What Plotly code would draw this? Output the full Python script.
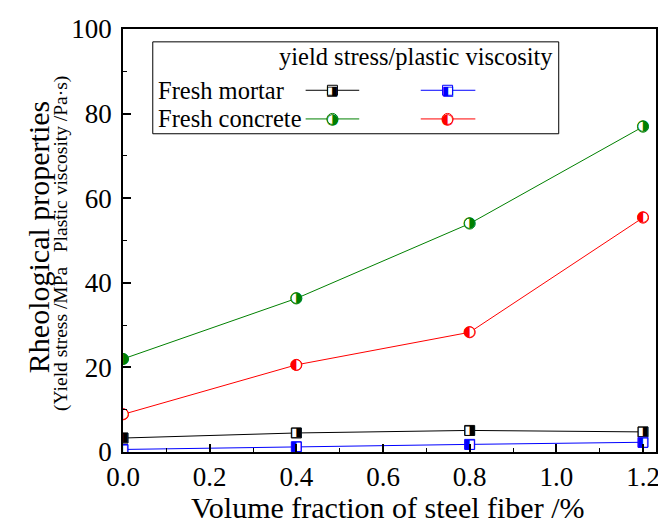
import plotly.graph_objects as go

# ---- data ----
fiber_fraction = [0.0, 0.4, 0.8, 1.2]
mortar_yield_stress = [3.3, 4.5, 5.1, 4.75]
mortar_plastic_viscosity = [0.6, 1.25, 1.8, 2.3]
concrete_yield_stress = [22.0, 36.3, 54.0, 76.9]
concrete_plastic_viscosity = [8.9, 20.6, 28.3, 55.4]

x_ticks = [0.0, 0.2, 0.4, 0.6, 0.8, 1.0, 1.2]
y_ticks = [0, 20, 40, 60, 80, 100]

SERIF = "Liberation Serif, Times New Roman, serif"
GLYPH = "DejaVu Sans"

series = [
    (mortar_yield_stress, "black", "square", "\u25E8", 10, 13),
    (mortar_plastic_viscosity, "blue", "square", "\u25E7", 10, 13),
    (concrete_yield_stress, "green", "circle", "\u25D1", 11, 15),
    (concrete_plastic_viscosity, "red", "circle", "\u25D0", 11, 15),
]

fig = go.Figure()
for ys, col, sym, glyph, msize, gsize in series:
    fig.add_trace(go.Scatter(
        x=fiber_fraction, y=ys, mode="lines+markers+text",
        line=dict(color=col, width=1),
        marker=dict(symbol=sym, size=msize, color="white", line=dict(color=col, width=1)),
        text=[glyph] * len(ys), textposition="middle center",
        textfont=dict(family=GLYPH, size=gsize, color=col),
        cliponaxis=True,
        showlegend=False, hoverinfo="skip",
    ))

# page has an 8px body margin; screen-pixel layout targets below
OFF = 8
L, R, T, B = 123, 660, 24, 452          # plot area in screen pixels
W, H = 666 - OFF, 523 - OFF             # figure size
def px(x):
    return (x - L) / (R - L)
def py(y):
    return (B - y) / (B - T)

shapes = []
annotations = []
# legend box
shapes.append(dict(type="rect", xref="paper", yref="paper",
                   x0=px(153), x1=px(562), y0=py(130), y1=py(37),
                   line=dict(color="black", width=1), fillcolor="white", layer="above"))
annotations.append(dict(xref="paper", yref="paper", x=px(558), y=py(52), xanchor="right", yanchor="middle",
                        text="yield stress/plastic viscosity", showarrow=False,
                        font=dict(family=SERIF, size=24.5, color="black")))
annotations.append(dict(xref="paper", yref="paper", x=px(156), y=py(86), xanchor="left", yanchor="middle",
                        text="Fresh mortar", showarrow=False, font=dict(family=SERIF, size=24.5, color="black")))
annotations.append(dict(xref="paper", yref="paper", x=px(156), y=py(115), xanchor="left", yanchor="middle",
                        text="Fresh concrete", showarrow=False, font=dict(family=SERIF, size=24.5, color="black")))
legend_samples = [
    (307, 361, 334, 86, "black", "rect", "\u25E8", 10, 13),
    (423, 478, 450, 86, "blue", "rect", "\u25E7", 10, 13),
    (307, 361, 334, 115, "green", "circle", "\u25D1", 11, 15),
    (423, 478, 450, 115, "red", "circle", "\u25D0", 11, 15),
]
for x0, x1, xm, yy, col, shp, glyph, msize, gsize in legend_samples:
    shapes.append(dict(type="line", xref="paper", yref="paper", x0=px(x0), x1=px(x1), y0=py(yy), y1=py(yy),
                       line=dict(color=col, width=1), layer="above"))
    h = msize / 2
    shapes.append(dict(type=shp, xref="paper", yref="paper", xsizemode="pixel", ysizemode="pixel",
                       xanchor=px(xm), yanchor=py(yy), x0=-h, x1=h, y0=-h, y1=h,
                       line=dict(color=col, width=1), fillcolor="white", layer="above"))
    annotations.append(dict(xref="paper", yref="paper", x=px(xm), y=py(yy), xanchor="center", yanchor="middle",
                            text=glyph, showarrow=False, font=dict(family=GLYPH, size=gsize, color=col)))

# axis titles
annotations.append(dict(xref="paper", yref="paper", x=px(38), y=py(235), textangle=-90,
                        xanchor="center", yanchor="middle", showarrow=False,
                        text="Rheological properties", font=dict(family=SERIF, size=30, color="black")))
annotations.append(dict(xref="paper", yref="paper", x=px(61), y=py(241), textangle=-90,
                        xanchor="center", yanchor="middle", showarrow=False,
                        text="(Yield stress /MPa&nbsp;&nbsp;&nbsp;Plastic viscosity /Pa\u00B7s)",
                        font=dict(family=SERIF, size=19.5, color="black")))
annotations.append(dict(xref="paper", yref="paper", x=px(390), y=py(508),
                        xanchor="center", yanchor="middle", showarrow=False,
                        text="Volume fraction of steel fiber /%", font=dict(family=SERIF, size=30, color="black")))

fig.update_layout(
    width=W, height=H,
    margin=dict(l=L - OFF, r=(666 - R), t=T - OFF, b=(523 - B)),
    paper_bgcolor="white", plot_bgcolor="white",
    shapes=shapes, annotations=annotations,
    font=dict(family=SERIF, size=27, color="black"),
)
fig.update_xaxes(
    range=[0, 1.23], tickmode="array", tickvals=x_ticks,
    ticktext=[f"{v:.1f}" for v in x_ticks],
    ticks="inside", ticklen=8, tickwidth=1.5, tickcolor="black",
    minor=dict(ticks="inside", ticklen=4, tickwidth=1, tickcolor="black", dtick=0.1, tick0=0, showgrid=False),
    showline=True, linecolor="black", linewidth=1.5, mirror=True,
    showgrid=False, zeroline=False,
    tickfont=dict(family=SERIF, size=27, color="black"),
)
fig.update_yaxes(
    range=[0, 100], tickmode="array", tickvals=y_ticks,
    ticks="inside", ticklen=8, tickwidth=1.5, tickcolor="black",
    minor=dict(ticks="inside", ticklen=4, tickwidth=1, tickcolor="black", dtick=10, tick0=0, showgrid=False),
    showline=True, linecolor="black", linewidth=1.5, mirror=True,
    showgrid=False, zeroline=False, ticklabelstandoff=4,
    tickfont=dict(family=SERIF, size=27, color="black"),
)

fig.write_html("out.html")
